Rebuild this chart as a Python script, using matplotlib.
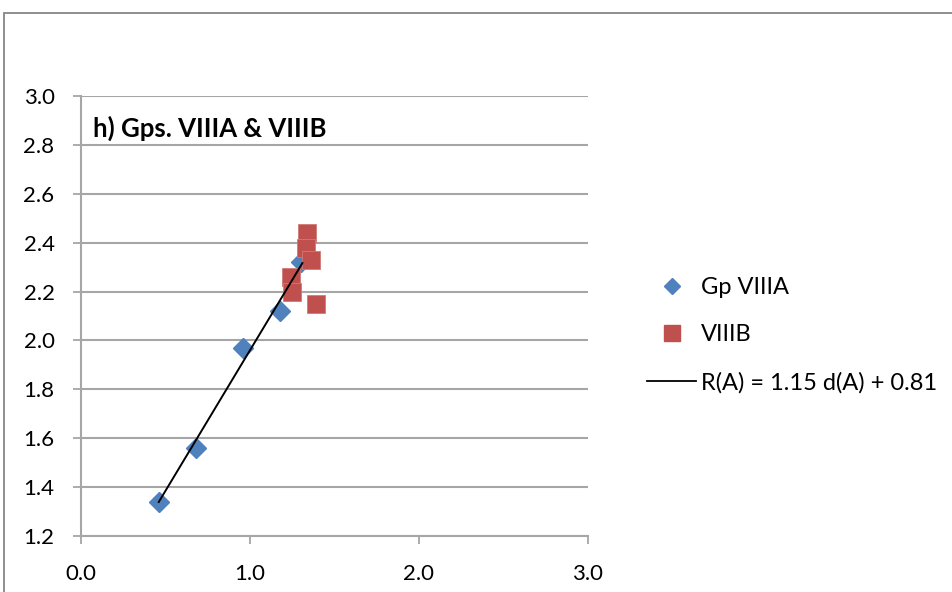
import matplotlib
matplotlib.use("Agg")
import matplotlib.pyplot as plt
from matplotlib.patches import Rectangle
from matplotlib.lines import Line2D
import numpy as np

plt.rcParams['font.family'] = ['Lato', 'DejaVu Sans']

# Group VIIIA
d_a = [0.46, 0.68, 0.96, 1.18, 1.30]
r_a = [1.34, 1.56, 1.97, 2.12, 2.32]

# Group VIIIB
d_b = [1.34, 1.33, 1.36, 1.24, 1.25, 1.39]
r_b = [2.44, 2.38, 2.33, 2.26, 2.20, 2.15]

# Linear fit R(A) = slope * d(A) + intercept over the VIIIA range
slope = 1.15
intercept = 0.81
fit_range = [0.46, 1.31]

x_ticks = [0.0, 1.0, 2.0, 3.0]
y_ticks = [1.2, 1.4, 1.6, 1.8, 2.0, 2.2, 2.4, 2.6, 2.8, 3.0]

W, H = 953, 592
fig = plt.figure(figsize=(W / 100, H / 100), dpi=100)

# chart-area frame
fig.patches.append(Rectangle((4 / W, -0.1), 1.2, 1 - 13 / H + 0.1,
                             transform=fig.transFigure, fill=False,
                             edgecolor='#868686', linewidth=1.3))

ax = fig.add_axes([81 / W, 1 - 536 / H, (588 - 81) / W, (536 - 96) / H])

blue = '#4F81BD'
red = '#C0504D'
grid = '#A6A6A6'

ax.set_xlim(0, 3)
ax.set_ylim(1.2, 3.0)
ax.set_xticks(x_ticks)
ax.set_yticks(y_ticks)
ax.set_xticklabels([f"{v:.1f}" for v in x_ticks])
ax.set_yticklabels([f"{v:.1f}" for v in y_ticks])
ax.tick_params(axis='both', labelsize=16, colors=grid, labelcolor='black',
               length=6, width=1.3)
ax.tick_params(axis='x', pad=14)
ax.tick_params(axis='y', pad=13)

for s in ['top', 'right']:
    ax.spines[s].set_visible(False)
for s in ['left', 'bottom']:
    ax.spines[s].set_color(grid)
    ax.spines[s].set_linewidth(1.5)

ax.yaxis.grid(True, color=grid, linewidth=1.5)
ax.set_axisbelow(True)

ax.plot(d_a, r_a, linestyle='none', marker='D', markersize=10,
        color=blue, markeredgecolor=blue, zorder=3)
ax.plot(d_b, r_b, linestyle='none', marker='s', markersize=13.5,
        color=red, markeredgecolor='#CF7A77', markeredgewidth=0.6, zorder=4)

xf = np.array(fit_range)
ax.plot(xf, slope * xf + intercept, color='black', linewidth=1.4, zorder=5)

ax.text(0.071, 2.869, "h) Gps. VIIIA & VIIIB", fontsize=18.5, fontweight='bold',
        ha='left', va='center')

handles = [
    Line2D([], [], linestyle='none', marker='D', markersize=8.5, color=blue),
    Line2D([], [], linestyle='none', marker='s', markersize=11.5, color=red),
    Line2D([], [], color='black', linewidth=1.3),
]
labels = ["Gp VIIIA", "VIIIB",
          f"R(A) = {slope:.2f} d(A) + {intercept:.2f}"]
fig.legend(handles, labels, loc='center left',
           bbox_to_anchor=(635 / W, 1 - 335 / H), frameon=False,
           fontsize=17, handlelength=2.1, handletextpad=0.2,
           labelspacing=1.12, borderpad=0)

fig.savefig("out.png", dpi=100)
